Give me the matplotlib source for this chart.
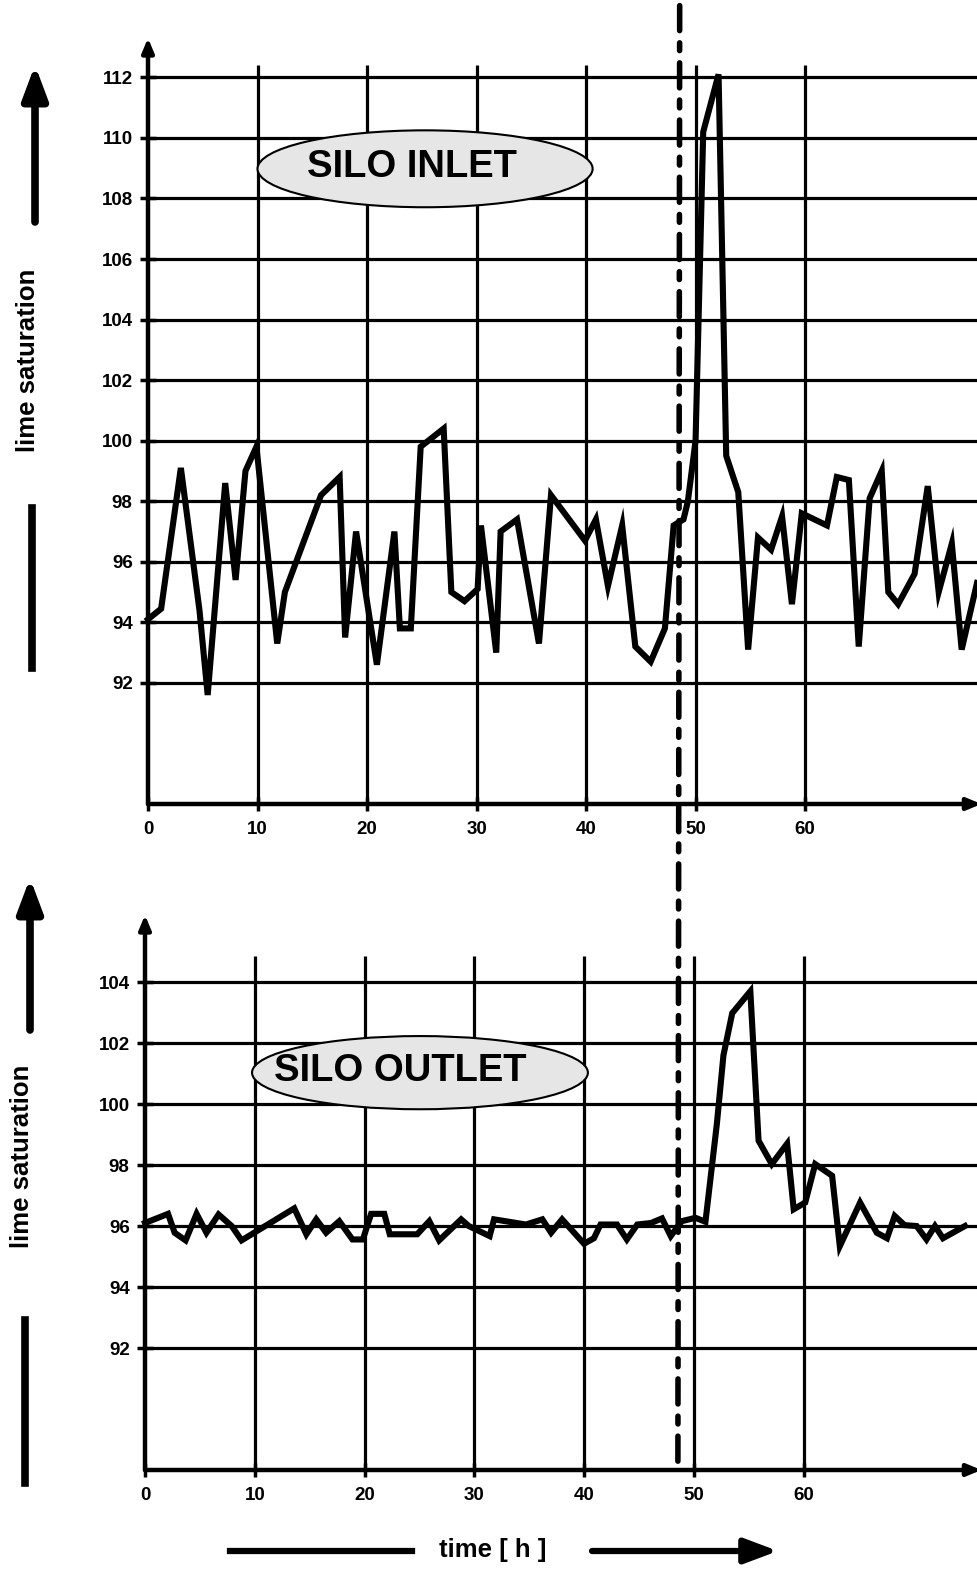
import matplotlib
matplotlib.use("Agg")
import matplotlib.pyplot as plt
from matplotlib.patches import Ellipse, ConnectionPatch

plt.rcParams['font.family'] = ['Liberation Sans', 'DejaVu Sans']

# ---------------- data ----------------
t_in = [0, 1.2, 3.0, 4.7, 5.45, 7.05, 8.0, 8.9, 9.9, 11.8, 12.5, 15.8, 17.5, 18.0, 19.0,
        20.9, 22.5, 23.0, 24.0, 24.9, 27.0, 27.7, 28.9, 30.1, 30.4, 31.8, 32.2, 33.7,
        35.7, 36.8, 39.9, 40.9, 42.0, 43.3, 44.5, 45.9, 47.2, 48.0, 48.9, 49.3, 50.0,
        50.7, 52.1, 52.8, 53.9, 54.8, 55.7, 56.9, 57.9, 58.8, 59.7, 62.0, 62.9, 64.0,
        64.9, 65.9, 67.0, 67.6, 68.5, 70.0, 71.2, 72.2, 73.4, 74.3, 75.7]
v_in = [94.1, 94.45, 99.1, 94.4, 91.6, 98.6, 95.4, 99.0, 99.8, 93.3, 95.0, 98.2, 98.8,
        93.5, 97.0, 92.6, 97.0, 93.8, 93.8, 99.8, 100.4, 95.0, 94.7, 95.1, 97.2, 93.0,
        97.0, 97.4, 93.3, 98.2, 96.7, 97.4, 95.2, 97.2, 93.2, 92.7, 93.8, 97.2, 97.4,
        98.0, 100.0, 110.2, 112.1, 99.5, 98.3, 93.1, 96.8, 96.4, 97.5, 94.6, 97.6, 97.2,
        98.8, 98.7, 93.2, 98.1, 99.0, 95.0, 94.6, 95.6, 98.5, 95.0, 96.6, 93.1, 95.3]

t_out = [0, 2.1, 2.7, 3.7, 4.7, 5.6, 6.7, 7.9, 8.8, 13.6, 14.7, 15.6, 16.5, 17.7, 18.9,
         19.85, 20.6, 21.8, 22.3, 24.8, 25.9, 26.8, 28.8, 29.5, 31.4, 31.8, 34.7, 36.2,
         37.0, 38.0, 40.0, 40.9, 41.5, 43.0, 43.9, 44.85, 46.1, 47.1, 47.9, 48.9, 50.15,
         51.06, 52.1, 52.7, 53.5, 55.15, 55.9, 57.1, 58.5, 59.1, 60.15, 61.06, 62.6, 63.3,
         65.15, 66.67, 67.6, 68.3, 69.2, 70.3, 71.2, 71.97, 72.7, 74.7]
v_out = [96.1, 96.4, 95.78, 95.53, 96.4, 95.78, 96.38, 96.0, 95.53, 96.58, 95.73, 96.22,
         95.78, 96.16, 95.56, 95.56, 96.4, 96.4, 95.73, 95.73, 96.16, 95.53, 96.22, 96.0,
         95.67, 96.22, 96.05, 96.22, 95.78, 96.22, 95.42, 95.6, 96.05, 96.05, 95.56,
         96.05, 96.1, 96.25, 95.67, 96.16, 96.27, 96.14, 99.35, 101.6, 102.98, 103.7,
         98.8, 98.03, 98.7, 96.55, 96.77, 98.03, 97.65, 95.34, 96.77, 95.78, 95.6, 96.33,
         96.03, 96.0, 95.56, 96.0, 95.6, 96.0]

x_ticks = [0, 10, 20, 30, 40, 50, 60]
yt_in = [92, 94, 96, 98, 100, 102, 104, 106, 108, 110, 112]
yt_out = [92, 94, 96, 98, 100, 102, 104]
event_t = 48.55

W, H = 977, 1569
fig = plt.figure(figsize=(W / 100, H / 100), dpi=100)


def fy(y):
    return 1 - y / H


ax1 = fig.add_axes([148 / W, fy(804), 1 - 148 / W, fy(38) - fy(804)])
ax2 = fig.add_axes([145 / W, fy(1470), 1 - 145 / W, fy(915) - fy(1470)])


def style(ax, yticks, ytop, vtop, data_t, data_v, xmax):
    ax.set_xlim(0, xmax)
    ax.set_ylim(88, ytop)
    for s in ax.spines.values():
        s.set_visible(False)
    for y in yticks:
        ax.axhline(y, color='black', lw=2.3, zorder=1)
    ax.vlines(x_ticks[1:], 88, vtop, color='black', lw=2.3, zorder=1)
    ax.set_xticks(x_ticks)
    ax.set_yticks(yticks)
    ax.set_xticklabels([str(v) for v in x_ticks], fontsize=13.5, fontweight='bold')
    ax.set_yticklabels([str(v) for v in yticks], fontsize=13.5, fontweight='bold')
    ax.tick_params(axis='y', direction='inout', length=12, width=2.5, pad=5)
    ax.tick_params(axis='x', direction='inout', length=10, width=2.5, pad=7)
    # axes with arrows
    ax.annotate('', xy=(0, ytop), xytext=(0, 88),
                arrowprops=dict(arrowstyle='-|>,head_length=0.6,head_width=0.25',
                                lw=3.2, color='black', mutation_scale=14,
                                shrinkA=0, shrinkB=0), annotation_clip=False)
    ax.annotate('', xy=(xmax + 0.4, 88), xytext=(0, 88),
                arrowprops=dict(arrowstyle='-|>,head_length=0.6,head_width=0.25',
                                lw=3.2, color='black', mutation_scale=14,
                                shrinkA=0, shrinkB=0), annotation_clip=False)
    ax.plot(data_t, data_v, color='black', lw=4.4, solid_joinstyle='miter', zorder=3,
            clip_on=False)


style(ax1, yt_in, 113.3, 112.4, t_in, v_in, 75.7)
style(ax2, yt_out, 106.2, 104.85, t_out, v_out, 75.8)

# labels in ellipses
e1 = Ellipse((25.3, 108.98), 30.6, 2.54, facecolor='#e6e6e6', edgecolor='black',
             lw=1.5, zorder=4)
ax1.add_patch(e1)
ax1.text(24.06, 109.05, 'SILO INLET', ha='center', va='center', fontsize=27.5,
         fontweight='bold', zorder=5)
e2 = Ellipse((25.05, 101.03), 30.6, 2.4, facecolor='#e6e6e6', edgecolor='black',
             lw=1.5, zorder=4)
ax2.add_patch(e2)
ax2.text(23.3, 101.1, 'SILO OUTLET', ha='center', va='center', fontsize=27.5,
         fontweight='bold', zorder=5)

# event line across both panels
con = ConnectionPatch(xyA=(event_t, 114.37), coordsA=ax1.transData,
                      xyB=(event_t, 88.15), coordsB=ax2.transData,
                      color='black', lw=4.0, linestyle=(0, (4.5, 2.2, 1.4, 2.2)),
                      zorder=6)
fig.add_artist(con)

# y labels with arrows
ap = dict(arrowstyle='-|>,head_length=0.8,head_width=0.3', lw=5.5, color='black',
          mutation_scale=25, shrinkA=0, shrinkB=0)
fig.text(28 / W, fy(360), 'lime saturation', rotation=90, ha='center', va='center',
         fontsize=18.5, fontweight='bold')
fig.add_artist(plt.Line2D([32 / W, 32 / W], [fy(508), fy(668)], color='black', lw=5.5))
fig.text(22 / W, fy(1156), 'lime saturation', rotation=90, ha='center', va='center',
         fontsize=18.5, fontweight='bold')
fig.add_artist(plt.Line2D([25 / W, 25 / W], [fy(1320), fy(1483)], color='black', lw=5.5))
ax1.annotate('', xy=(35, H - 65), xytext=(35, H - 222), xycoords='figure pixels',
             textcoords='figure pixels', arrowprops=ap, annotation_clip=False)
ax2.annotate('', xy=(30, H - 878), xytext=(30, H - 1030), xycoords='figure pixels',
             textcoords='figure pixels', arrowprops=ap, annotation_clip=False)

# time label
fig.text(493 / W, fy(1550), 'time [ h ]', ha='center', va='center', fontsize=18.5,
         fontweight='bold')
fig.add_artist(plt.Line2D([230 / W, 412 / W], [fy(1551), fy(1551)], color='black', lw=4.5))
ax2.annotate('', xy=(778, H - 1551), xytext=(592, H - 1551), xycoords='figure pixels',
             textcoords='figure pixels', arrowprops=dict(
                 arrowstyle='-|>,head_length=0.8,head_width=0.3', lw=4.5, color='black',
                 mutation_scale=25, shrinkA=0, shrinkB=0), annotation_clip=False)

fig.savefig('out.png', dpi=100, facecolor='white')
